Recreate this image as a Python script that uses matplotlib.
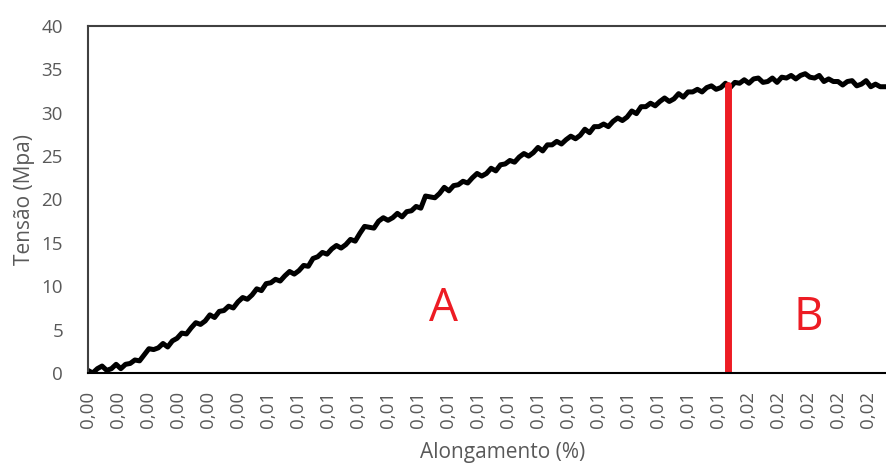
import matplotlib.pyplot as plt
import numpy as np

plt.rcParams['font.family'] = ['Open Sans', 'DejaVu Sans']

alongamento = [0.0013, 0.0014, 0.0015, 0.0016, 0.0017, 0.0018, 0.0019, 0.0020, 0.0021, 0.0022,
               0.0023, 0.0024, 0.0025, 0.0026, 0.0027, 0.0028, 0.0029, 0.0030, 0.0031, 0.0032,
               0.0033, 0.0034, 0.0035, 0.0036, 0.0037, 0.0038, 0.0039, 0.0040, 0.0041, 0.0042,
               0.0043, 0.0044, 0.0045, 0.0046, 0.0047, 0.0048, 0.0049, 0.0050, 0.0051, 0.0052,
               0.0053, 0.0054, 0.0055, 0.0056, 0.0057, 0.0058, 0.0059, 0.0060, 0.0061, 0.0062,
               0.0063, 0.0064, 0.0065, 0.0066, 0.0067, 0.0068, 0.0069, 0.0070, 0.0071, 0.0072,
               0.0073, 0.0074, 0.0075, 0.0076, 0.0077, 0.0078, 0.0079, 0.0080, 0.0081, 0.0082,
               0.0083, 0.0084, 0.0085, 0.0086, 0.0087, 0.0088, 0.0089, 0.0090, 0.0091, 0.0092,
               0.0093, 0.0094, 0.0095, 0.0096, 0.0097, 0.0098, 0.0099, 0.0100, 0.0101, 0.0102,
               0.0103, 0.0104, 0.0105, 0.0106, 0.0107, 0.0108, 0.0109, 0.0110, 0.0111, 0.0112,
               0.0113, 0.0114, 0.0115, 0.0116, 0.0117, 0.0118, 0.0119, 0.0120, 0.0121, 0.0122,
               0.0123, 0.0124, 0.0125, 0.0126, 0.0127, 0.0128, 0.0129, 0.0130, 0.0131, 0.0132,
               0.0133, 0.0134, 0.0135, 0.0136, 0.0137, 0.0138, 0.0139, 0.0140, 0.0141, 0.0142,
               0.0143, 0.0144, 0.0145, 0.0146, 0.0147, 0.0148, 0.0149, 0.0150, 0.0151, 0.0152,
               0.0153, 0.0154, 0.0155, 0.0156, 0.0157, 0.0158, 0.0159, 0.0160, 0.0161, 0.0162,
               0.0163, 0.0164, 0.0165, 0.0166, 0.0167, 0.0168, 0.0169, 0.0170, 0.0171, 0.0172,
               0.0173, 0.0174, 0.0175, 0.0176, 0.0177, 0.0178, 0.0179, 0.0180, 0.0181, 0.0182,
               0.0183]
tensao = [0.3, 0.0, 0.5, 0.8, 0.3, 0.5, 1.0, 0.5, 1.0, 1.1,
          1.5, 1.4, 2.1, 2.8, 2.7, 2.9, 3.4, 3.0, 3.7, 4.0,
          4.6, 4.5, 5.2, 5.8, 5.6, 6.0, 6.7, 6.4, 7.1, 7.2,
          7.7, 7.5, 8.2, 8.7, 8.5, 9.0, 9.7, 9.5, 10.3, 10.4,
          10.8, 10.6, 11.2, 11.7, 11.4, 11.8, 12.4, 12.3, 13.2, 13.4,
          13.9, 13.7, 14.3, 14.7, 14.4, 14.8, 15.4, 15.2, 16.1, 16.9,
          16.8, 16.7, 17.5, 17.9, 17.6, 17.9, 18.4, 18.0, 18.6, 18.7,
          19.2, 19.0, 20.4, 20.3, 20.2, 20.7, 21.4, 21.0, 21.6, 21.7,
          22.1, 21.9, 22.5, 23.0, 22.7, 23.0, 23.6, 23.3, 24.0, 24.1,
          24.5, 24.3, 24.9, 25.3, 25.0, 25.4, 26.0, 25.6, 26.3, 26.3,
          26.7, 26.4, 26.9, 27.3, 27.0, 27.4, 28.1, 27.7, 28.4, 28.4,
          28.7, 28.4, 29.0, 29.4, 29.1, 29.5, 30.2, 29.9, 30.7, 30.7,
          31.1, 30.8, 31.3, 31.7, 31.3, 31.6, 32.2, 31.8, 32.4, 32.4,
          32.7, 32.4, 32.9, 33.1, 32.7, 32.9, 33.4, 32.9, 33.5, 33.4,
          33.8, 33.4, 33.9, 34.0, 33.5, 33.6, 34.0, 33.5, 34.1, 34.0,
          34.3, 33.9, 34.3, 34.5, 34.1, 34.0, 34.3, 33.6, 33.9, 33.6,
          33.6, 33.2, 33.6, 33.7, 33.1, 33.3, 33.7, 33.0, 33.3, 33.0,
          33.0]

tick_labels = ['0,00'] * 6 + ['0,01'] * 16 + ['0,02'] * 5
tick_start = 0.0013
tick_step = 0.00064

limite_ab = 0.01495  # boundary between region A and B
tensao_ab = 33.2

fig = plt.figure(figsize=(8.86, 4.68), dpi=100)
ax = fig.add_axes([88 / 886, 95 / 468, 830 / 886, 347 / 468])

ax.plot(alongamento, tensao, color='black', lw=3.6, solid_joinstyle='round')
ax.plot([limite_ab, limite_ab], [0, tensao_ab], color='#ED1C24', lw=5, solid_capstyle='round')

ax.text(0.00889, 7.4, 'A', color='#ED1C24', fontsize=33, ha='center', va='center')
ax.text(0.01666, 6.3, 'B', color='#ED1C24', fontsize=33, ha='center', va='center')

ax.set_xlim(tick_start, tick_start + 830 / 30 * tick_step)
ax.set_ylim(0, 40)
ax.set_yticks(range(0, 41, 5))
ax.set_xticks(tick_start + np.arange(len(tick_labels)) * tick_step)
ax.set_xticklabels(tick_labels, rotation=90)
ax.tick_params(length=0, colors='#595959', labelsize=13.5)
ax.tick_params(axis='y', pad=18)
ax.tick_params(axis='x', pad=13)

for side in ['left', 'top', 'right']:
    ax.spines[side].set_color('#404040')
    ax.spines[side].set_linewidth(1.5)
ax.spines['bottom'].set_color('black')
ax.spines['bottom'].set_linewidth(1.5)

ax.set_ylabel('Tensão (Mpa)', color='#595959', fontsize=15, labelpad=5)
ax.set_xlabel('Alongamento (%)', color='#595959', fontsize=15, labelpad=10)

# title sits mostly above the picture, as in the cropped original
fig.text(0.09, 1 + 5 / 468, 'Figura 3 – Diagrama tensão x alongamento do corpo de prova',
         fontsize=15, fontweight='bold', ha='left', va='baseline')

fig.savefig('out.png', dpi=100)
